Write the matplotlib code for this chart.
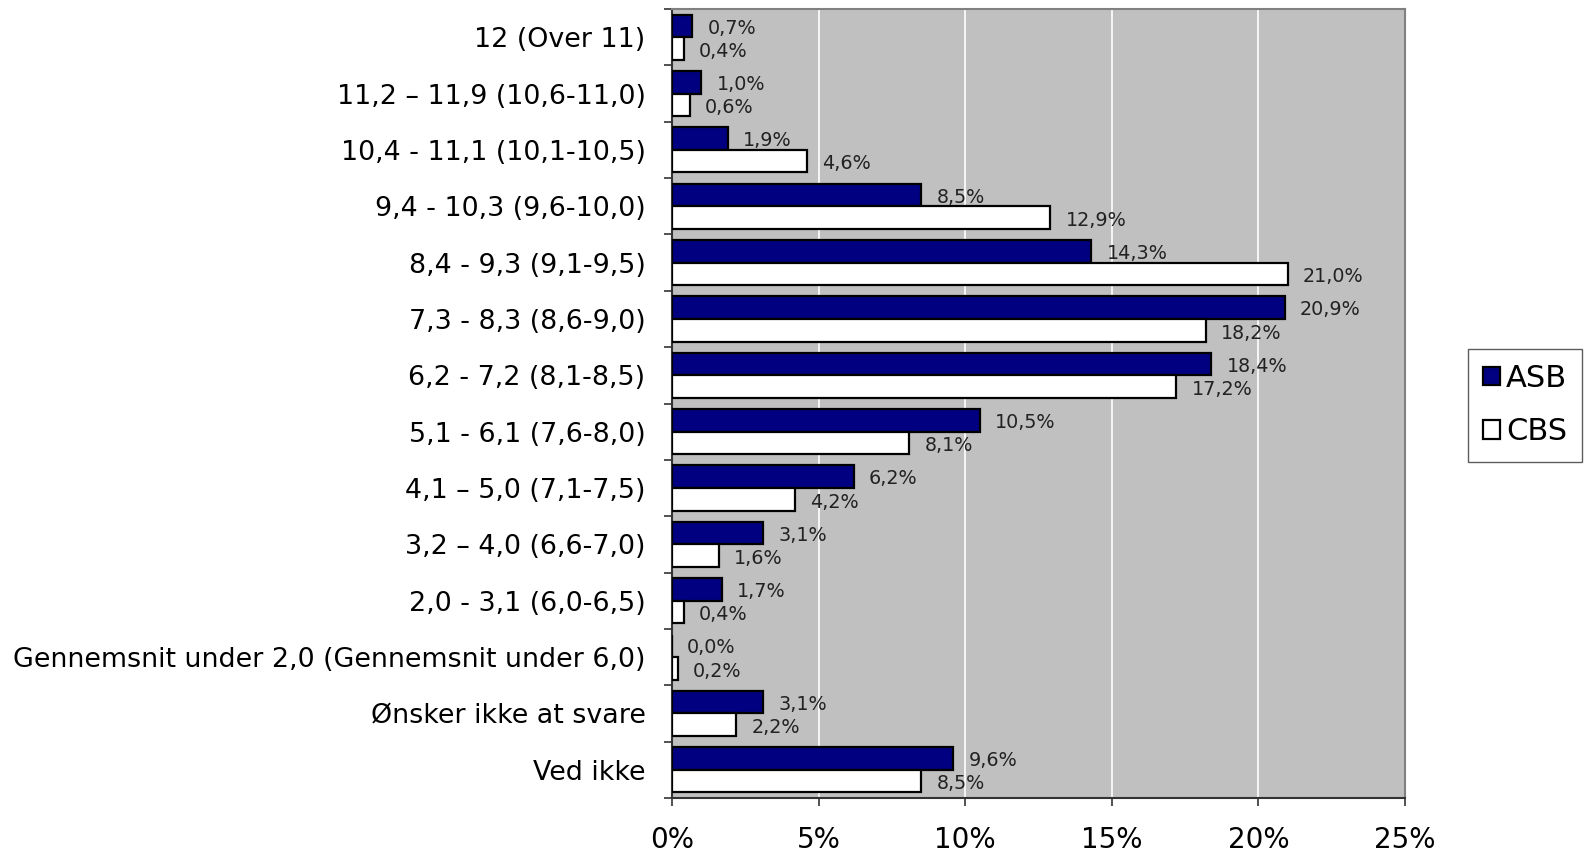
import matplotlib.pyplot as plt
import numpy as np

categories = [
    "12 (Over 11)",
    "11,2 \u2013 11,9 (10,6-11,0)",
    "10,4 - 11,1 (10,1-10,5)",
    "9,4 - 10,3 (9,6-10,0)",
    "8,4 - 9,3 (9,1-9,5)",
    "7,3 - 8,3 (8,6-9,0)",
    "6,2 - 7,2 (8,1-8,5)",
    "5,1 - 6,1 (7,6-8,0)",
    "4,1 \u2013 5,0 (7,1-7,5)",
    "3,2 \u2013 4,0 (6,6-7,0)",
    "2,0 - 3,1 (6,0-6,5)",
    "Gennemsnit under 2,0 (Gennemsnit under 6,0)",
    "\u00d8nsker ikke at svare",
    "Ved ikke",
]
asb = [0.7, 1.0, 1.9, 8.5, 14.3, 20.9, 18.4, 10.5, 6.2, 3.1, 1.7, 0.0, 3.1, 9.6]
cbs = [0.4, 0.6, 4.6, 12.9, 21.0, 18.2, 17.2, 8.1, 4.2, 1.6, 0.4, 0.2, 2.2, 8.5]
x_ticks = [0, 5, 10, 15, 20, 25]

plt.rcParams['font.family'] = ['DejaVu Sans']

fig = plt.figure(figsize=(15.87, 8.52), dpi=100)
ax = fig.add_axes([0.4234, 0.0634, 0.4619, 0.926])
ax.set_facecolor('#C0C0C0')

y = np.arange(len(categories))
h = 0.4
ax.barh(y - h / 2, asb, height=h, color='#000080', edgecolor='black', linewidth=1.6, label='ASB', zorder=3)
ax.barh(y + h / 2, cbs, height=h, color='white', edgecolor='black', linewidth=1.6, label='CBS', zorder=3)

for i in range(len(categories)):
    ax.annotate(f"{asb[i]:.1f}%".replace('.', ','), (asb[i], y[i] - h / 2), xytext=(11, -1.5),
                textcoords='offset points', va='center', ha='left', fontsize=13.8, color='#222222', zorder=4)
    ax.annotate(f"{cbs[i]:.1f}%".replace('.', ','), (cbs[i], y[i] + h / 2), xytext=(11, -2),
                textcoords='offset points', va='center', ha='left', fontsize=13.8, color='#222222', zorder=4)

ax.set_xlim(0, 25)
ax.set_ylim(len(categories) - 0.5, -0.5)
ax.set_xticks(x_ticks)
ax.set_xticklabels([f"{t}%" for t in x_ticks], fontsize=20)
ax.set_yticks(y)
ax.set_yticklabels(categories, fontsize=19.4)
ax.set_yticks(np.arange(len(categories) + 1) - 0.5, minor=True)
ax.tick_params(axis='y', which='major', length=0, pad=19)
ax.tick_params(axis='y', which='minor', length=6, width=1.2, color='#333333')
ax.tick_params(axis='x', length=6, width=1.2, color='#333333', pad=14)

for t in x_ticks[1:-1]:
    ax.axvline(t, color='white', linewidth=1.2, zorder=1)

ax.spines['left'].set_color('#333333')
ax.spines['bottom'].set_color('#333333')
ax.spines['left'].set_linewidth(1.5)
ax.spines['bottom'].set_linewidth(1.5)
ax.spines['top'].set_color('#808080')
ax.spines['right'].set_color('#808080')
ax.spines['top'].set_linewidth(1.5)
ax.spines['right'].set_linewidth(1.5)

leg = fig.legend(loc='center', bbox_to_anchor=(0.961, 0.5246), fontsize=22, frameon=True,
                 fancybox=False, edgecolor='#333333', handlelength=0.55, handleheight=0.55,
                 handletextpad=0.2, borderpad=0.5, labelspacing=0.8)
leg.get_frame().set_linewidth(1.0)

fig.savefig('out.png', dpi=100)
